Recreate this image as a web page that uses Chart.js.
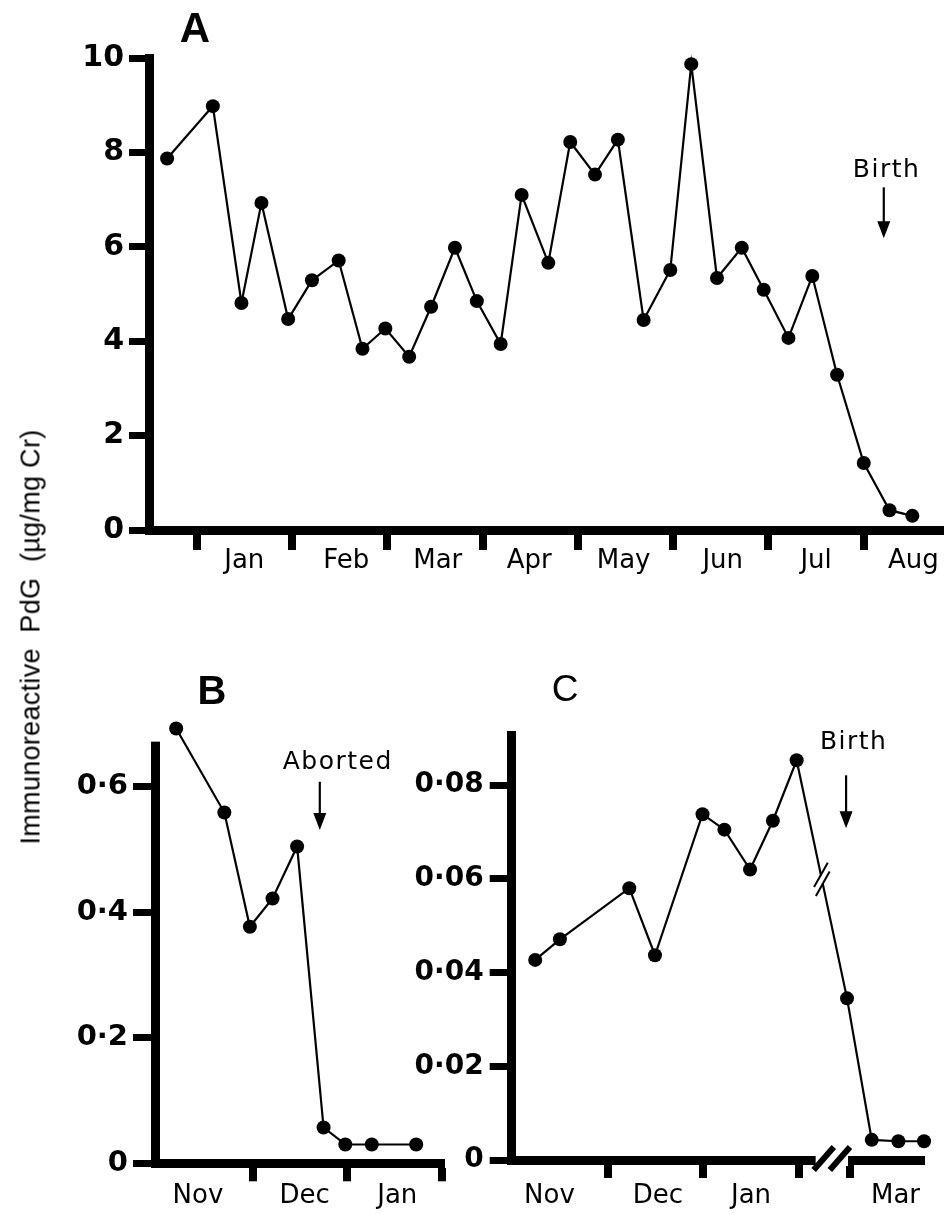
<!DOCTYPE html>
<html><head><meta charset="utf-8">
<script src="https://cdn.jsdelivr.net/npm/chart.js@4/dist/chart.umd.min.js"></script>
<style>
html,body{margin:0;padding:0;background:#fff;}
body{width:947px;height:1214px;position:relative;overflow:hidden;}
canvas{position:absolute;}
.lbl{position:absolute;color:#000;transform:translate(-50%,-50%);line-height:1;white-space:pre;}
#ylab{position:absolute;left:31px;top:637px;transform:translate(-50%,-50%) rotate(-90deg);font-family:"Liberation Sans",Arial,sans-serif;font-size:27px;white-space:pre;line-height:1;color:#000;letter-spacing:0.3px;}
</style></head><body>
<canvas id="cA" width="947" height="600" style="left:0;top:0"></canvas>
<canvas id="cB" width="460" height="574" style="left:0;top:640px"></canvas>
<canvas id="cC" width="547" height="574" style="left:400px;top:640px"></canvas>
<div class="lbl" style="left:195px;top:28px;font-family:'Liberation Sans',Arial;font-weight:bold;font-size:42px">A</div>
<div class="lbl" style="left:212px;top:690px;font-family:'Liberation Sans',Arial;font-weight:bold;font-size:40px">B</div>
<div class="lbl" style="left:565px;top:688px;font-family:'Liberation Sans',Arial;font-size:37px">C</div>
<div id="ylab">Immunoreactive  PdG  (µg/mg Cr)</div>
<script>
// ---------- Panel A (x in months, 0 = 1 Jan) ----------
const xA = [-0.31, 0.17, 0.47, 0.68, 0.96, 1.21, 1.49, 1.74, 1.98, 2.23, 2.46, 2.71, 2.94, 3.19, 3.41, 3.69,
            3.92, 4.18, 4.42, 4.69, 4.97, 5.19, 5.46, 5.72, 5.95, 6.21, 6.46, 6.72, 7.00, 7.27, 7.51];
const yA = [7.87, 8.98, 4.81, 6.93, 4.47, 5.29, 5.71, 3.84, 4.27, 3.67, 4.73, 5.98, 4.85, 3.94, 7.10, 5.66,
            8.22, 7.53, 8.27, 4.45, 5.51, 9.87, 5.34, 5.98, 5.09, 4.07, 5.38, 3.29, 1.42, 0.42, 0.30];
const monthTicksA = [0, 1, 2, 3, 4, 5, 6, 7];
const monthLabelsA = ['Jan', 'Feb', 'Mar', 'Apr', 'May', 'Jun', 'Jul', 'Aug'];
const monthLabelPosA = [0.5, 1.57, 2.53, 3.49, 4.48, 5.52, 6.5, 7.52];
const yTicksA = [0, 2, 4, 6, 8, 10];
const yTickLabelsA = ['0', '2', '4', '6', '8', '10'];
const noteA = {text: 'Birth', x: 7.21, top: 7.26, bottom: 6.18, tx: 7.24, ty: 7.62};

// ---------- Panel B (x in months, 0 = 1 Nov) ----------
const xB = [0.19, 0.70, 0.97, 1.21, 1.47, 1.75, 1.98, 2.26, 2.73];
const yB = [0.693, 0.559, 0.377, 0.422, 0.505, 0.057, 0.03, 0.03, 0.03];
const monthTicksB = [1, 2, 3];
const monthLabelsB = ['Nov', 'Dec', 'Jan'];
const monthLabelPosB = [0.42, 1.55, 2.53];
const yTicksB = [0, 0.2, 0.4, 0.6];
const yTickLabelsB = ['0', '0·2', '0·4', '0·6'];
const yAxisTopB = 0.672;
const noteB = {text: 'Aborted', x: 1.71, top: 0.608, bottom: 0.531, tx: 1.90, ty: 0.638};

// ---------- Panel C (x in axis months, 0 = 1 Nov; axis broken after Feb, Mar starts at 3.54) ----------
const xC = [0.23, 0.49, 1.22, 1.49, 1.99, 2.22, 2.49, 2.73, 2.98, 3.51, 3.77, 4.05, 4.32];
const yC = [0.0427, 0.0471, 0.058, 0.0437, 0.0738, 0.0705, 0.062, 0.0724, 0.0853, 0.0345, 0.0043, 0.004, 0.004];
const monthTicksC = [1, 2, 3, 3.54];
const monthLabelsC = ['Nov', 'Dec', 'Jan', 'Mar'];
const monthLabelPosC = [0.38, 1.52, 2.5, 4.02];
const yTicksC = [0, 0.02, 0.04, 0.06, 0.08];
const yTickLabelsC = ['0', '0·02', '0·04', '0·06', '0·08'];
const noteC = {text: 'Birth', x: 3.50, top: 0.0821, bottom: 0.0708, tx: 3.58, ty: 0.0892};
const axisBreakC = [3.18, 3.52];
const lineBreakAfterC = 8; // segment between 9th and 10th sample

const notesPlugin = {
  id: 'notes',
  beforeDatasetsDraw(chart, args, opts) {
    if (opts.yAxisTop == null) return;
    const ctx = chart.ctx, ys = chart.scales.y, a = chart.chartArea;
    const yTop = ys.getPixelForValue(opts.yAxisTop);
    ctx.save();
    ctx.fillStyle = '#fff';
    ctx.fillRect(a.left - 8, a.top - 6, 16, yTop - a.top + 6);
    ctx.restore();
  },
  afterDatasetsDraw(chart, args, opts) {
    const ctx = chart.ctx, xs = chart.scales.x, ys = chart.scales.y;
    const n = opts.note;
    if (n) {
      const px = xs.getPixelForValue(n.x);
      const top = ys.getPixelForValue(n.top), bot = ys.getPixelForValue(n.bottom);
      ctx.save();
      ctx.strokeStyle = '#000'; ctx.fillStyle = '#000'; ctx.lineWidth = 2.2;
      ctx.beginPath(); ctx.moveTo(px, top); ctx.lineTo(px, bot - 12); ctx.stroke();
      ctx.beginPath(); ctx.moveTo(px - 6.5, bot - 17); ctx.lineTo(px + 6.5, bot - 17); ctx.lineTo(px, bot); ctx.closePath(); ctx.fill();
      ctx.font = '25px "DejaVu Sans"'; ctx.textAlign = 'center'; ctx.textBaseline = 'middle';
      try { ctx.letterSpacing = '1.5px'; } catch (e) {}
      ctx.fillText(n.text, xs.getPixelForValue(n.tx), ys.getPixelForValue(n.ty));
      ctx.restore();
    }
    if (opts.axisBreak) {
      const x0 = xs.getPixelForValue(opts.axisBreak[0]), x1 = xs.getPixelForValue(opts.axisBreak[1]);
      const y = ys.getPixelForValue(0);
      const w = (x1 - x0) / 2;
      ctx.save();
      ctx.fillStyle = '#fff'; ctx.fillRect(x0, y - 6, x1 - x0, 12);
      ctx.strokeStyle = '#000'; ctx.lineWidth = 6;
      [x0, x0 + w].forEach(sx => { ctx.beginPath(); ctx.moveTo(sx - 2, y + 10); ctx.lineTo(sx + w + 2, y - 13); ctx.stroke(); });
      ctx.restore();
    }
    if (opts.lineBreak != null) {
      const pts = chart.getDatasetMeta(0).data;
      const p = pts[opts.lineBreak], q = pts[opts.lineBreak + 1];
      const mx = (p.x + q.x) / 2, my = (p.y + q.y) / 2;
      const L = Math.hypot(q.x - p.x, q.y - p.y), ux = (q.x - p.x) / L, uy = (q.y - p.y) / L;
      const vx = 0.49, vy = -0.87;
      ctx.save();
      ctx.strokeStyle = '#fff'; ctx.lineWidth = 5;
      ctx.beginPath(); ctx.moveTo(mx - 4 * ux, my - 4 * uy); ctx.lineTo(mx + 4 * ux, my + 4 * uy); ctx.stroke();
      ctx.strokeStyle = '#000'; ctx.lineWidth = 2;
      [-4.5, 4.5].forEach(o => {
        const cx = mx + o * ux, cy = my + o * uy;
        ctx.beginPath(); ctx.moveTo(cx - 14 * vx, cy - 14 * vy); ctx.lineTo(cx + 14 * vx, cy + 14 * vy); ctx.stroke();
      });
      ctx.restore();
    }
  }
};

function panel(id, o) {
  const stubs = new Set(o.stubs);
  const labelMap = new Map(o.labelPos.map((p, i) => [p, o.labels[i]]));
  const xticks = [...o.stubs, ...o.labelPos].sort((a, b) => a - b);
  return new Chart(document.getElementById(id), {
    type: 'line',
    data: {datasets: [{
      data: o.x.map((x, i) => ({x, y: o.y[i]})),
      borderColor: '#000', backgroundColor: '#000', borderWidth: 2.2,
      pointRadius: 7, pointBackgroundColor: '#000', pointBorderWidth: 0,
      tension: 0, fill: false, clip: false
    }]},
    options: {
      responsive: false, animation: false, devicePixelRatio: 1,
      layout: {padding: o.pad},
      plugins: {legend: {display: false}, tooltip: {enabled: false},
        notes: {note: o.note, axisBreak: o.axisBreak || null,
          lineBreak: o.lineBreak == null ? null : o.lineBreak,
          yAxisTop: o.yAxisTop == null ? null : o.yAxisTop}},
      scales: {
        x: {
          type: 'linear', min: o.xmin, max: o.xmax,
          afterBuildTicks: s => { s.ticks = xticks.map(v => ({value: v})); },
          afterFit: s => { s.height = o.xh; },
          ticks: {autoSkip: false, maxRotation: 0, minRotation: 0, padding: o.xpad, color: '#000',
            font: {family: 'DejaVu Sans', size: 26, lineHeight: 1},
            callback: v => labelMap.has(v) ? labelMap.get(v) : ''},
          grid: {drawOnChartArea: false, drawTicks: true, tickLength: o.xtl,
            color: c => (c.tick && stubs.has(c.tick.value)) ? '#000' : 'rgba(0,0,0,0)',
            lineWidth: c => (c.tick && stubs.has(c.tick.value)) ? 8 : 0},
          border: {display: true, color: '#000', width: 9}
        },
        y: {
          type: 'linear', min: 0, max: o.ymax,
          afterBuildTicks: s => { s.ticks = o.yt.map(v => ({value: v})); },
          afterFit: s => { s.width = o.yw; },
          ticks: {padding: o.ypad, color: '#000', font: {family: 'DejaVu Sans', size: o.yfs, weight: 'bold'},
            callback: (v, i) => o.ytl[i]},
          grid: {drawOnChartArea: false, drawTicks: true, tickLength: o.ytlen, color: '#000', lineWidth: 7},
          border: {display: true, color: '#000', width: 9}
        }
      }
    },
    plugins: [notesPlugin]
  });
}

panel('cA', {x: xA, y: yA, stubs: monthTicksA, labels: monthLabelsA, labelPos: monthLabelPosA,
  yt: yTicksA, ytl: yTickLabelsA, ymax: 10, xmin: -0.50, xmax: 7.80, yfs: 30,
  pad: {left: 0, right: 4, top: 58, bottom: 0}, xh: 70, yw: 149, xtl: 20, xpad: -2, ypad: 5, ytlen: 20, note: noteA});

panel('cB', {x: xB, y: yB, stubs: monthTicksB, labels: monthLabelsB, labelPos: monthLabelPosB,
  yt: yTicksB, ytl: yTickLabelsB, ymax: 0.71, xmin: -0.034, xmax: 3.035, yfs: 29, yAxisTop: yAxisTopB,
  pad: {left: 0, right: 15, top: 77.8, bottom: 0}, xh: 50.7, yw: 155, xtl: 18, xpad: 2, ypad: 5, ytlen: 22, note: noteB});

panel('cC', {x: xC, y: yC, stubs: monthTicksC, labels: monthLabelsC, labelPos: monthLabelPosC,
  yt: yTicksC, ytl: yTickLabelsC, ymax: 0.0907, xmin: -0.017, xmax: 4.33, yfs: 28,
  pad: {left: 0, right: 22, top: 95, bottom: 0}, xh: 54, yw: 111.7, xtl: 18, xpad: 5, ypad: 6, ytlen: 22, note: noteC,
  axisBreak: axisBreakC, lineBreak: lineBreakAfterC});
</script>
</body></html>
